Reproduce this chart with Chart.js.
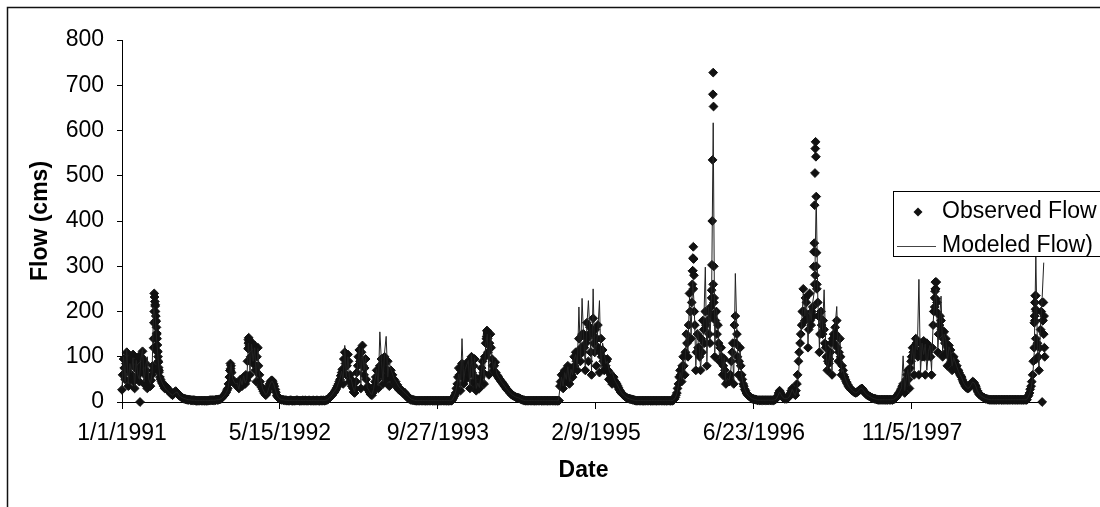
<!DOCTYPE html>
<html>
<head>
<meta charset="utf-8">
<title>Observed and Modeled Flow</title>
<script src="https://cdn.jsdelivr.net/npm/chart.js@4.4.1/dist/chart.umd.min.js"></script>
<style>
  html, body { margin: 0; padding: 0; background: #fff; }
  #wrap { width: 1100px; height: 507px; overflow: hidden; }
</style>
</head>
<body>
<div id="wrap"><canvas id="flow" width="1100" height="507"></canvas></div>
<script>
// Day 0 is 1/1/1991. Each yearly list holds one flow value (cms) every 5 days;
// the "B" lists are the readings taken two days after those.
const STEP = 5;
const B_OFFSET = 2;
const yearStart = [0, 365, 731, 1096, 1461, 1826, 2192, 2557];
const axisEnd = 2921;

const tickDays = [0, 500, 1000, 1500, 2000, 2500];
const tickLabels = ['1/1/1991', '5/15/1992', '9/27/1993', '2/9/1995', '6/23/1996', '11/5/1997'];

const obs1991 = [27,95,50,110,35,80,60,105,30,90, 70,45,100,112,40,85,30,55,35,60,
  140,215,150,90,55,45,38,30,34,26, 22,18,15,20,24,20,15,12,10,8,
  7,6,5,5,4,4,4,3,3,3, 3,3,3,3,3,3,4,4,4,4, 5,5,6,8,12,16,22,30,55,80, 50,42,38];
const obs1992 = [40,30,50,35,55,40,48,138,60,132, 85,125,45,120,60,35,28,20,15,22,
  35,45,48,40,28,15,10,6,5,5, 4,4,3,3,4,3,3,3,4,3, 3,3,3,4,3,3,3,3,4,3,
  3,3,3,4,3,3, 4,5,8,12,15,20,25,32,40,50, 65,40,110,60,105,45,50];
const obs1993 = [30,20,45,80,115,30,125,60,95,30, 25,18,15,25,45,70,30,80,95,40,
  100,50,90,35,70,60,50,45,38,32, 28,25,22,20,15,12,8,6,5,4,
  3,3,3,3,3,3,3,3,3,3, 3,3,3,3,3,3,3,3,3,3, 3,3,3, 5,12,20,40,75,25,85,40,70,80];
const obs1994 = [90,30,100,45,95,25,40,30,55,90, 40,130,155,60,150,95,70,88,60,55,
  50,45,40,35,30,26,22,18,15,13, 11,10,9,7,5,4,
  3,3,3,3,3,3,3,3,3,3, 3,3,3,3,3,3,3,3,3,3, 3,3,
  35,60,30,70,45,80,40,75,55,100, 110,70,140,90,150];
const obs1995 = [150,70,175,90,165,60,185,110,80,170, 65,140,115,70,80,95,50,60,40,55,
  45,40,32,25,20,16,13,10,8,7, 6,5,4,
  3,3,3,3,3,3,3,3,3,3, 3,3,3,3,3,3,3,3,3,3, 3,3,3,3,
  5,10,20,40,70,45,100,60,150,100, 240,140,290,200,70,150];
const obs1996 = [120,70,110,160,200,80,200,130,230,260, 100,200,170,90,120,60,95,40,50,45,
  60,110,40,190,150,60,120,60,40,28, 20,15,12,9,7,6,5,
  4,4,4,4,4,4,4,4,4,4,4,
  5,8,15,25,18,10,8,7,8,12, 20,30,22,15,40,90,130,170,250,180, 220,120,240,170,210];
const obs1997 = [260,300,220,110,200,150,160,120,70,85, 110,60,150,165,180,90,140,60,70,55,
  45,38,32,28,25,22,20,22,25,28, 30,25,20,16,14,12,10,8,7,6,
  5,5,5,5,5,5,5,5,5,5,
  6,8,12,18,22,30,40,20,50,70, 30,90,120,60,140,110,60,130,100,135, 60,130,110];
const obs1998 = [120,60,170,230,265,110,170,180,100,155, 140,80,125,115,70,100,90,80,70,60,
  55,45,38,32,30,32,38,45,42,35, 25,18,15,12,10,8,7,6,
  5,5,5,5,5,5,5,5,5,5, 5,5,5,5,5,5,5,5,5,5, 5,5,5,5,
  12,20,35,60,120,235,130,70,160,220, 150];

const obs1991B = [60,75,85,70,95,50,90,45,75,55, 100,65,80,95,60,70,50,45,48,80,
  200,180,110,70,50,42,35,32,30,28, 24,20,18,22,22,18,14,11,9,7,
  6,5,5,4,4,4,3,3,3,3, 3,3,3,3,3,4,4,4,4,5, 5,6,7,10,14,19,26,40,70,65, 45,40,42];
const obs1992B = [35,45,40,52,45,60,90,120,100,95, 110,70,100,80,
  45,32,24,18,18,28,40,47,45,35, 22,12,8,6,5,4,
  4,3,3,4,3,3,3,4,3,3, 3,4,3,3,3,4,3,3,3,3, 4,3,3,3,4,3,
  5,6,10,14,18,22,28,36,45,58, 72,95,85,80,90,60,35];
const obs1993B = [22,30,65,100,90,110,80,75,50,35, 22,16,20,35,
  55,50,60,70,60,85,75,70,60,55, 55,48,42,35,30,26,24,20,18,
  14,10,7,5,4,4,3,
  3,3,3,3,3,3,3,3,3,3, 3,3,3,3,3,3,3,3,3,3, 3,3,3,
  8,15,30,55,60,70,55,60,50,60];
const obs1994B = [60,70,65,80,55,35,30,45,75,65, 100,140,110,130,120,80,80,65,58,52, 47,
  43,38,33,28,24,20,16,14,12,10, 9,8,6,5,4,
  3,3,3,3,3,3,3,3,3,3, 3,3,3,3,3,3,3,3,3,3, 3,3,
  45,40,55,50,65,60,65,60,70,80, 90,100,110,120,110];
const obs1995B = [120,130,140,150,110,150,130,160,140,120, 110,100,90,95,90,70,65,55,50,48, 42,36,28,
  22,18,15,12,9,8,7,6,5,4,
  3,3,3,3,3,3,3,3,3,3, 3,3,3,3,3,3,3,3,3,3, 3,3,3,3,
  6,15,30,55,60,80,80,110,130,170, 200,220,250,170,110,120];
const obs1996B = [100,140,180,130,170,180,150,210,190,220, 180,150,130,120,100,80,70,55,45,50,
  90,130,170,130,100,90,80,50,35,25, 18,14,11,8,7,6,5,
  4,4,4,4,4,4,4,4,4,4,4,
  6,10,20,22,14,9,7,8,10,16, 25,26,18,25,60,110,150,200,200,230, 190,160,180,200,190];
const obs1997B = [280,250,190,150,170,180,130,100,90,95, 130,140,130,150,120,110,100,80,60,50,
  42,35,30,26,24,21,21,24,26,29, 28,22,18,15,13,11,9,8,7,6,
  5,5,5,5,5,5,5,5,5,5,
  7,10,15,20,26,35,30,40,60,50, 75,100,110,120,130,100,110,115,120,100, 110,100,120];
const obs1998B = [100,120,200,250,220,150,190,160,140,130, 110,120,100,90,95,85,75,70,65,58,
  50,42,35,31,31,35,42,44,38,30, 22,16,13,11,9,7,6,5,
  5,5,5,5,5,5,5,5,5,5, 5,5,5,5,5,5,5,5,5,5, 5,5,5,5,
  15,28,45,90,180,200,100,120,200,180, 120];

// daily observed readings around the storm peaks (and the two zero readings)
const peakDays = [57,
  99,100,101,102,103,104,105,106,107,108,109,110,111,112,113,114,115,116,117,
  341,342,343,344, 399,400,401,402,403, 1153,1154,1155,1156,1157,
  1805,1806,1807,1808,1809,1810,
  1866,1867,1868,1869,1870,1871,1872,1873,1874,
  2189,2190,2191,2192,2193,2194,2195,2196,2197,2198,2199,
  2572,2573,2574,2575,2576,2577,
  2887,2888,2889,2890,2891,2892,2893, 2912,2914,2916,2918,2920];
const peakFlow = [0,
  70,120,175,240,232,222,212,200,190,178,165,152,140,126,112,100,88,76,66,
  55,70,85,74, 118,130,142,135,124, 130,145,158,150,140,
  260,290,318,343,316,280,
  247,303,400,535,680,728,653,300,230,
  299,332,351,435,506,560,575,542,454,330,260,
  210,245,265,250,228,200,
  175,190,220,235,205,140,95, 0,180,220,190,100];

const mod1991 = [30,100,45,118,40,85,65,98,35,92, 60,50,96,118,45,80,100,50,40,62,
  210,190,135,88,56,46,38,32,27,24, 20,17,15,18,21,22,15,12,10,8,
  7,6,5,5,4,4,4,3,3,3, 3,3,3,3,3,3,4,4,4,4, 5,5,6,8,11,15,21,28,52,85, 52,44,40];
const mod1992 = [42,28,52,38,58,42,50,130,70,128, 90,120,50,118,62,46,30,22,16,20,
  32,42,46,40,28,16,10,7,5,5, 4,4,3,3,4,3,3,3,4,3, 3,3,3,4,3,3,3,3,4,3,
  3,3,3,4,3,3, 4,5,8,12,16,22,26,32,42,52, 68,45,125,55,100,50,52];
const mod1993 = [32,22,48,85,120,40,118,70,100,32, 26,20,16,28,50,72,35,155,90,45,
  110,145,55,88,72,62,52,46,40,34, 30,26,23,20,16,12,9,6,5,4,
  3,3,3,3,3,3,3,3,3,3, 3,3,3,3,3,3,3,3,3,3, 3,3,3, 5,13,22,42,62,30,140,45,72,82];
const mod1994 = [92,35,105,50,98,30,42,32,58,92, 45,128,150,70,148,100,72,90,62,56,
  50,44,40,35,30,26,22,18,15,13, 11,10,9,7,5,4,
  3,3,3,3,3,3,3,3,3,3, 3,3,3,3,3,3,3,3,3,3, 3,3,
  30,55,35,65,50,78,45,72,60,95, 105,75,210,95,229];
const mod1995 = [140,80,165,224,150,70,250,100,125,160, 224,75,130,110,85,90,72,62,68,55,
  46,40,33,26,20,16,13,10,8,7, 6,5,4,
  3,3,3,3,3,3,3,3,3,3, 3,3,3,3,3,3,3,3,3,3, 3,3,3,3,
  5,9,18,38,65,50,95,70,155,110, 230,150,270,210,80,160];
const mod1996 = [130,75,115,170,298,90,210,140,240,617, 110,205,175,95,122,65,98,45,52,48,
  62,115,50,284,155,70,118,58,40,28, 20,15,12,9,7,6,5,
  4,4,4,4,4,4,4,4,4,4,4,
  5,7,14,22,16,10,8,7,8,11, 18,28,20,14,30,60,120,175,240,190, 230,130,210,180,220];
const mod1997 = [250,455,230,120,210,160,248,125,72,90, 115,70,155,170,211,100,145,65,72,56,
  46,38,32,28,25,22,20,22,26,29, 30,25,20,16,14,12,10,8,7,6,
  5,5,5,5,5,5,5,5,5,5,
  6,8,12,18,24,32,102,25,52,72, 35,89,125,70,145,115,271,65,130,105, 128,70,112];
const mod1998 = [125,70,175,225,250,120,175,234,110,150, 138,90,122,112,80,98,88,78,68,60,
  54,45,38,33,30,32,38,44,42,35, 25,18,15,12,10,8,7,6,
  5,5,5,5,5,5,5,5,5,5, 5,5,5,5,5,5,5,5,5,5, 5,5,5,5,
  10,18,30,55,110,322,120,75,170,230, 308];

const observedByYear = [obs1991, obs1992, obs1993, obs1994, obs1995, obs1996, obs1997, obs1998];
const observedByYearB = [obs1991B, obs1992B, obs1993B, obs1994B, obs1995B, obs1996B, obs1997B, obs1998B];
const modeledByYear = [mod1991, mod1992, mod1993, mod1994, mod1995, mod1996, mod1997, mod1998];

function toPoints(lists, offset) {
  const pts = [];
  lists.forEach((vals, k) => {
    vals.forEach((v, i) => pts.push({ x: yearStart[k] + i * STEP + offset, y: v }));
  });
  return pts;
}

const observedPoints = toPoints(observedByYear, 0)
  .concat(toPoints(observedByYearB, B_OFFSET))
  .concat(peakDays.map((d, i) => ({ x: d, y: peakFlow[i] })));
const modeledPoints = toPoints(modeledByYear, 0);

const FAMILY = '"Liberation Sans", Arial, sans-serif';
const tickFont = { family: FAMILY, size: 23 };
const titleFont = { family: FAMILY, size: 23, weight: 'bold' };

// boxed legend that sits over the right side of the plot, plus the outer frame
const frameAndLegend = {
  id: 'frameAndLegend',
  afterDraw(chart) {
    const ctx = chart.ctx;
    const sets = chart.data.datasets;
    ctx.save();
    ctx.strokeStyle = '#111';
    ctx.lineWidth = 1.5;
    ctx.beginPath();
    ctx.moveTo(7.5, 507);
    ctx.lineTo(7.5, 7.5);
    ctx.lineTo(1100, 7.5);
    ctx.stroke();

    ctx.fillStyle = '#fff';
    ctx.fillRect(893.5, 191.5, 230, 65);
    ctx.lineWidth = 1;
    ctx.strokeStyle = '#000';
    ctx.strokeRect(893.5, 191.5, 230, 65);

    ctx.fillStyle = '#111';
    ctx.beginPath();
    ctx.moveTo(918, 207.5); ctx.lineTo(922.5, 212); ctx.lineTo(918, 216.5); ctx.lineTo(913.5, 212);
    ctx.closePath();
    ctx.fill();

    ctx.strokeStyle = '#444';
    ctx.beginPath();
    ctx.moveTo(897, 246.5); ctx.lineTo(936, 246.5);
    ctx.stroke();

    ctx.fillStyle = '#000';
    ctx.font = '23px ' + FAMILY;
    ctx.textBaseline = 'middle';
    ctx.textAlign = 'left';
    ctx.fillText(sets[1].label, 942, 212);
    ctx.fillText(sets[0].label, 942, 246);
    ctx.restore();
  }
};

new Chart(document.getElementById('flow'), {
  type: 'scatter',
  data: {
    datasets: [
      {
        label: 'Modeled Flow)',
        data: modeledPoints,
        type: 'line',
        showLine: true,
        borderColor: '#222',
        borderWidth: 1,
        pointRadius: 0,
        tension: 0,
        clip: false,
        order: 0
      },
      {
        label: 'Observed Flow',
        data: observedPoints,
        pointStyle: 'rectRot',
        pointRadius: 4.4,
        borderWidth: 1,
        backgroundColor: '#111',
        borderColor: '#111',
        clip: false,
        order: 1
      }
    ]
  },
  options: {
    responsive: false,
    animation: false,
    devicePixelRatio: 1,
    layout: { padding: { left: 8, top: 40, right: 55, bottom: 10 } },
    plugins: { legend: { display: false }, tooltip: { enabled: false } },
    scales: {
      x: {
        type: 'linear',
        min: 0,
        max: axisEnd,
        afterBuildTicks: s => { s.ticks = tickDays.map(v => ({ value: v })); },
        afterFit: s => { s.height = 95; },
        ticks: {
          callback: (v, i) => tickLabels[i],
          autoSkip: false,
          maxRotation: 0,
          padding: 11,
          color: '#000',
          font: tickFont
        },
        grid: { drawOnChartArea: false, drawTicks: true, tickLength: 7, color: '#000' },
        border: { display: true, color: '#000', width: 1 },
        title: { display: true, text: 'Date', color: '#000', font: titleFont, padding: { top: 0, bottom: 13 } }
      },
      y: {
        min: 0,
        max: 800,
        afterFit: s => { s.width = 114; },
        ticks: { stepSize: 100, padding: 13, color: '#000', font: tickFont },
        grid: { drawOnChartArea: false, drawTicks: true, tickLength: 5, color: '#000' },
        border: { display: true, color: '#000', width: 1 },
        title: { display: true, text: 'Flow (cms)', color: '#000', font: titleFont, padding: { top: 19, bottom: 0 } }
      }
    }
  },
  plugins: [frameAndLegend]
});
</script>
</body>
</html>
